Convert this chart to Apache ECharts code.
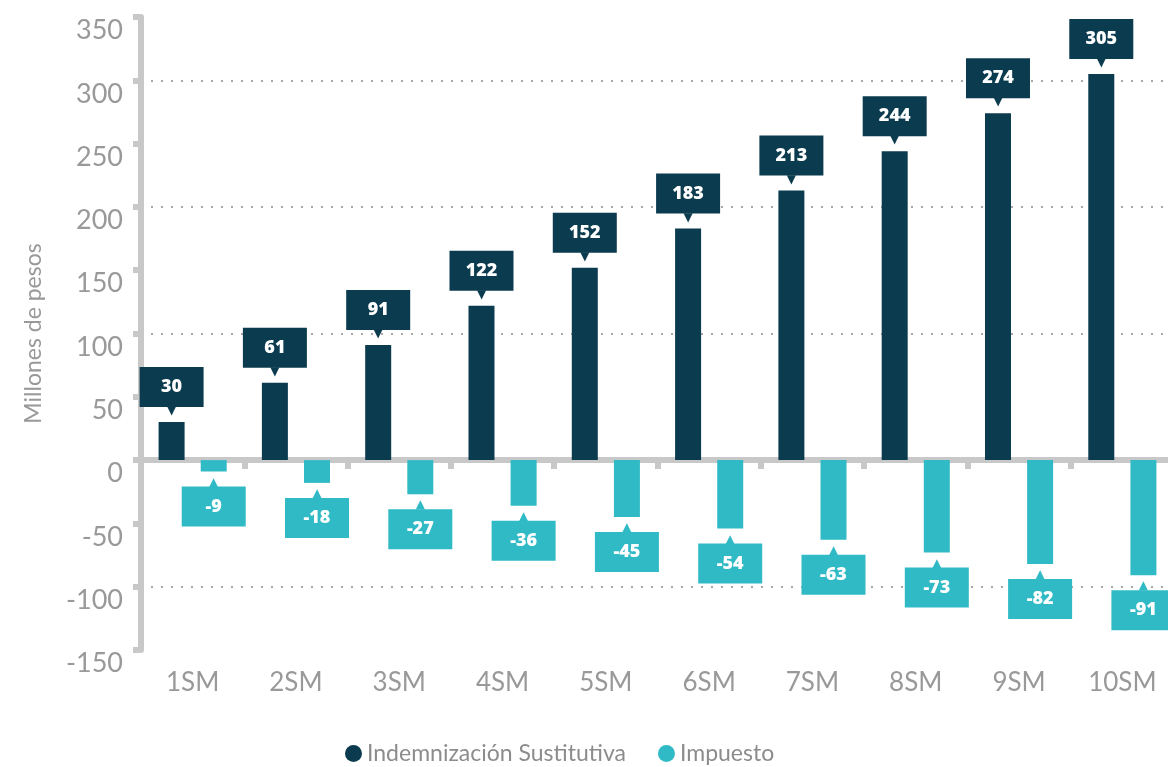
<!DOCTYPE html>
<html>
<head>
<meta charset="utf-8">
<style>
  html, body { margin: 0; padding: 0; background: #fff; }
  #chart { width: 1168px; height: 767px; }
</style>
<script src="https://cdn.jsdelivr.net/npm/echarts@6/dist/echarts.min.js"></script>
</head>
<body>
<div id="chart"></div>
<script>
var categories = ["1SM", "2SM", "3SM", "4SM", "5SM", "6SM", "7SM", "8SM", "9SM", "10SM"];
var indemnizacion = [30, 61, 91, 122, 152, 183, 213, 244, 274, 305];
var impuesto = [-9, -18, -27, -36, -45, -54, -63, -73, -82, -91];
var seriesNames = ["Indemnización Sustitutiva", "Impuesto"];
var yTicks = { min: -150, max: 350, interval: 50 };

var DARK = "#0b3b4e";
var TEAL = "#2fbac5";
var AXIS = "#c8c8c8";
var TEXT = "#999999";

function callout(color, up) {
  // caja con flechita (triángulo como glifo)
  return {
    show: true,
    position: up ? "top" : "bottom",
    distance: 7,
    formatter: function (p) {
      return up ? "{box|" + p.value + "}\n{arr|▼}" : "{arr|▲}\n{box|" + p.value + "}";
    },
    rich: {
      box: {
        backgroundColor: color,
        color: "#fff",
        fontFamily: "Open Sans",
        fontWeight: 800,
        fontSize: 18,
        width: 64,
        height: 40,
        lineHeight: 40,
        align: "center",
      },
      arr: {
        color: color,
        fontFamily: "DejaVu Sans",
        fontSize: 12,
        lineHeight: 8,
        align: "center",
      },
    },
  };
}

var myChart = echarts.init(document.getElementById("chart"));
var option = {
  animation: false,
  textStyle: { fontFamily: "Lato" },
  grid: { left: 141, right: -6, top: 17, bottom: 117, outerBoundsMode: "none", containLabel: false },
  legend: {
    data: seriesNames,
    left: 340,
    top: 737,
    icon: "circle",
    itemWidth: 17,
    itemHeight: 17,
    itemGap: 32,
    textStyle: { color: "#8c8c8c", fontSize: 23, fontFamily: "Lato" },
  },
  xAxis: [
    {
      // eje en el cero, sin etiquetas
      type: "category",
      data: categories,
      position: "bottom",
      axisLine: { onZero: true, lineStyle: { color: AXIS, width: 6 } },
      axisTick: { show: true, length: 9, lineStyle: { color: AXIS, width: 6 } },
      axisLabel: { show: false },
      splitLine: { show: false },
    },
    {
      // solo etiquetas abajo
      type: "category",
      data: categories,
      position: "bottom",
      axisLine: { show: false, onZero: false },
      axisTick: { show: false },
      axisLabel: { color: TEXT, fontSize: 26, margin: 20 },
      splitLine: { show: false },
    },
  ],
  yAxis: {
    type: "value",
    min: yTicks.min,
    max: yTicks.max,
    interval: yTicks.interval,
    name: "Millones de pesos",
    nameLocation: "middle",
    nameGap: 96,
    nameTextStyle: { color: TEXT, fontSize: 23 },
    axisLine: { show: true, lineStyle: { color: AXIS, width: 6 } },
    axisTick: { show: true, length: 8, lineStyle: { color: AXIS, width: 6 } },
    axisLabel: { color: TEXT, fontSize: 27, margin: 18, verticalAlign: "top", padding: [0, 0, 0, 0] },
    splitLine: {
      show: true,
      lineStyle: { color: ["transparent", "#8a8a8a"], width: 1.5, type: [2, 8] },
    },
  },
  series: [
    {
      name: seriesNames[0],
      type: "bar",
      data: indemnizacion,
      itemStyle: { color: DARK },
      barWidth: 26,
      barGap: "62%",
      label: callout(DARK, true),
    },
    {
      name: seriesNames[1],
      type: "bar",
      data: impuesto,
      itemStyle: { color: TEAL },
      barWidth: 26,
      label: callout(TEAL, false),
    },
  ],
};
myChart.setOption(option);
window.addEventListener("resize", function () {
  myChart.resize();
});
</script>
</body>
</html>
